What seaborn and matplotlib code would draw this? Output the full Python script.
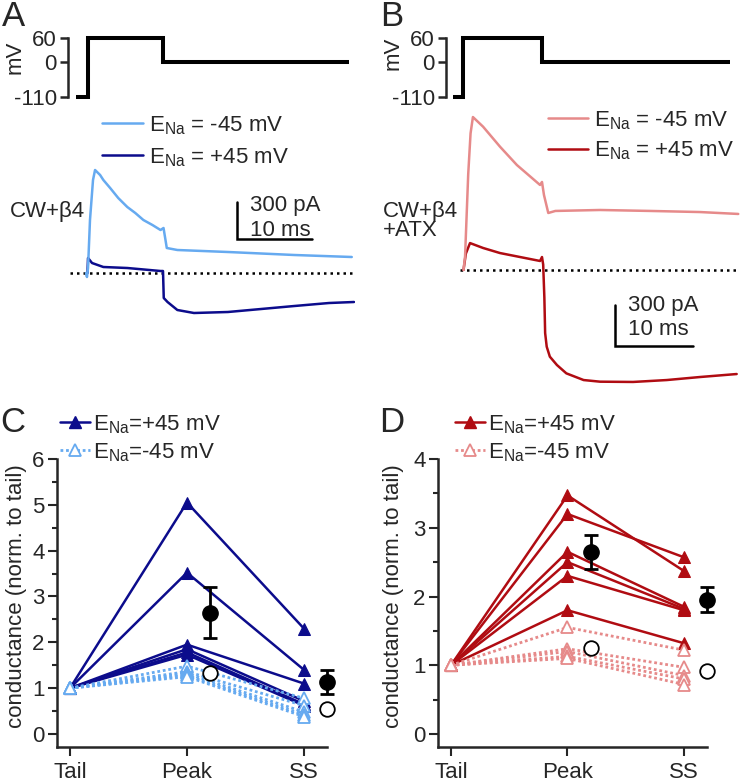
import numpy as np
import pandas as pd
import matplotlib
matplotlib.use("Agg")
import matplotlib.pyplot as plt
import seaborn as sns
from matplotlib.lines import Line2D
from matplotlib.ticker import NullLocator, MultipleLocator

sns.set_theme(style="ticks")
plt.rcParams["font.family"] = ["Liberation Sans", "DejaVu Sans"]
plt.rcParams["mathtext.fontset"] = "custom"
plt.rcParams["mathtext.rm"] = "Liberation Sans"
plt.rcParams["mathtext.it"] = "Liberation Sans:italic"
plt.rcParams["mathtext.bf"] = "Liberation Sans:bold"

# ---------------- data ----------------
# voltage protocol (ms, mV)
prot_t_A = [-1.5, 0, 0, 10, 10, 34.6]
prot_t_B = [-1.3, 0, 0, 10, 10, 33.9]
prot_v = [-110, -110, 60, 60, 0, 0]
volt_ticks = [-110, 0, 60]

# Panel A currents (ms, pA)
A_light_t = [-0.2, -0.07, 0.07, 0.33, 0.73, 1.0, 1.67, 2.1, 3.0, 4.07, 5.27, 6.33, 7.4, 8.6, 9.67, 10.07, 10.33, 10.5, 11.9, 18.6, 27.4, 35.0]
A_light_i = [0, -32, 40, 424, 744, 824, 784, 744, 680, 600, 528, 480, 424, 384, 344, 360, 264, 200, 184, 168, 144, 128]
A_dark_t = [0.0, 0.07, 0.6, 2.1, 5.27, 9.67, 10.0, 10.1, 10.6, 11.9, 14.1, 18.6, 23.0, 27.4, 32.0, 35.3]
A_dark_i = [0, 120, 80, 48, 40, 16, 16, -200, -232, -296, -320, -312, -288, -264, -240, -232]

# Panel B currents (ms, pA)
B_light_t = [0, 0.2, 0.6, 0.9, 1.2, 2.5, 4.65, 6.8, 9.75, 10.0, 10.25, 10.8, 11.7, 17.4, 23.8, 30.1, 35.0]
B_light_i = [0, 100, 700, 1000, 1119, 1048, 902, 768, 622, 644, 549, 417, 432, 439, 432, 424, 410]
B_dark_t = [0, 0.3, 0.83, 2.5, 4.65, 7.2, 9.75, 10.0, 10.15, 10.3, 10.4, 10.6, 11.0, 11.9, 13.1, 15.3, 17.4, 21.6, 25.9, 30.1, 34.8]
B_dark_i = [0, 120, 197, 161, 124, 95, 66, 95, 40, -200, -461, -561, -634, -695, -756, -805, -817, -819, -805, -783, -761]

# Panels C/D normalized conductance
phases = ["Tail", "Peak", "SS"]
C_pos_peak = [5.05, 3.52, 1.95, 1.85, 1.78, 1.73]
C_pos_ss = [2.30, 1.40, 1.10, 0.72, 0.65, 0.62]
C_neg_peak = [1.48, 1.36, 1.32, 1.28, 1.25]
C_neg_ss = [0.78, 0.62, 0.48, 0.42, 0.38]
D_pos_peak = [3.47, 3.20, 2.65, 2.50, 2.30, 1.80]
D_pos_ss = [2.37, 2.57, 1.85, 1.82, 1.80, 1.32]
D_neg_peak = [1.55, 1.24, 1.20, 1.13, 1.10]
D_neg_ss = [1.22, 0.97, 0.85, 0.80, 0.72]

# colours
BLUE_L, BLUE_D = "#66aaf0", "#0c0c8c"
RED_L, RED_D = "#e68a8a", "#b00c12"

W, H = 740, 783
fig = plt.figure(figsize=(W / 100, H / 100), dpi=100)
FS = 16


def add_ax(x0, x1, y0, y1):
    return fig.add_axes([x0 / W, 1 - y1 / H, (x1 - x0) / W, (y1 - y0) / H])


def px_lim(p0, p1, ref_px, ref_val, scale):
    return ((p0 - ref_px) / scale + ref_val, (p1 - ref_px) / scale + ref_val)


def fwd(v):
    v = np.asarray(v, dtype=float)
    return np.where(v >= 0, v, v * 0.795)


def inv(u):
    u = np.asarray(u, dtype=float)
    return np.where(u >= 0, u, u / 0.795)


def voltage_axes(x0, x1, t0px, pxms, prot_t, label_x, label_y):
    ax = add_ax(x0, x1, 30, 103)
    ax.set_yscale("function", functions=(fwd, inv))
    ax.set_xlim(*px_lim(x0, x1, t0px, 0, pxms))
    ax.set_ylim(inv(-(103 - 62) / 0.4), (62 - 30) / 0.4)
    sns.lineplot(x=prot_t, y=prot_v, ax=ax, estimator=None, sort=False,
                 color="black", lw=2.9, solid_joinstyle="miter", solid_capstyle="butt")
    for s in ["top", "right", "bottom"]:
        ax.spines[s].set_visible(False)
    ax.spines["left"].set_bounds(-110, 60)
    ax.spines["left"].set_linewidth(1.8)
    ax.set_yticks(volt_ticks)
    ax.set_yticklabels([str(v) for v in volt_ticks])
    ax.yaxis.set_minor_locator(NullLocator())
    ax.set_xticks([])
    ax.tick_params(axis="y", direction="out", length=6, width=1.8, pad=2, labelsize=FS)
    ax.set_ylabel("mV", fontsize=FS, labelpad=0)
    ax.yaxis.set_label_coords(label_x, label_y)
    ax.set_xlabel("")
    ax.patch.set_alpha(0)
    return ax


# ---------------- Panel A ----------------
vA = voltage_axes(68, 355, 87.5, 7.55, prot_t_A, -0.148, 0.63)
iA = add_ax(68, 355, 160, 325)
iA.set_xlim(*px_lim(68, 355, 87.5, 0, 7.55))
iA.set_ylim(-(325 - 273) / 0.125, (273 - 160) / 0.125)
iA.axis("off")
iA.hlines(0, -2.3, 35.0, colors="black", lw=1.8, linestyles=(0, (1, 1.6)))
sns.lineplot(x=A_dark_t, y=A_dark_i, ax=iA, estimator=None, sort=False, color=BLUE_D, lw=1.8)
sns.lineplot(x=A_light_t, y=A_light_i, ax=iA, estimator=None, sort=False, color=BLUE_L, lw=1.8)
sbx, sby = 19.8, 272
iA.plot([sbx, sbx, sbx + 10], [sby + 300, sby, sby], color="black", lw=1.8, solid_joinstyle="miter")
iA.text(sbx + 1.7, 544, "300 pA", fontsize=FS, va="center", ha="left")
iA.text(sbx + 1.7, 344, "10 ms", fontsize=FS, va="center", ha="left")
iA.legend(handles=[Line2D([], [], color=BLUE_L, lw=1.8), Line2D([], [], color=BLUE_D, lw=1.8)],
          labels=[r"E$_{\rm Na}$ = -45 mV", r"E$_{\rm Na}$ = +45 mV"],
          loc="upper left", bbox_to_anchor=(102 / W, 1 - 114 / H), bbox_transform=fig.transFigure,
          frameon=False, borderpad=0, borderaxespad=0, handlelength=1.86, handletextpad=0.25,
          labelspacing=0.43, fontsize=FS)
fig.text(10 / W, 1 - 212 / H, "CW+β4", fontsize=FS, ha="left", va="center")

# ---------------- Panel B ----------------
vB = voltage_axes(446, 740, 463.5, 7.85, prot_t_B, -0.143, 0.685)
iB = add_ax(446, 740, 105, 390)
iB.set_xlim(*px_lim(446, 740, 463.5, 0, 7.85))
iB.set_ylim(-(390 - 270) / 0.1367, (270 - 105) / 0.1367)
iB.axis("off")
iB.hlines(0, -0.45, 34.8, colors="black", lw=1.8, linestyles=(0, (1, 1.6)))
sns.lineplot(x=B_dark_t, y=B_dark_i, ax=iB, estimator=None, sort=False, color=RED_D, lw=1.8)
sns.lineplot(x=B_light_t, y=B_light_i, ax=iB, estimator=None, sort=False, color=RED_L, lw=1.8)
sbx, sby = 19.24, -556
iB.plot([sbx, sbx, sbx + 10], [sby + 300, sby, sby], color="black", lw=1.8, solid_joinstyle="miter")
iB.text(sbx + 1.75, -263, "300 pA", fontsize=FS, va="center", ha="left")
iB.text(sbx + 1.75, -432, "10 ms", fontsize=FS, va="center", ha="left")
iB.legend(handles=[Line2D([], [], color=RED_L, lw=1.8), Line2D([], [], color=RED_D, lw=1.8)],
          labels=[r"E$_{\rm Na}$ = -45 mV", r"E$_{\rm Na}$ = +45 mV"],
          loc="upper left", bbox_to_anchor=(548 / W, 1 - 109 / H), bbox_transform=fig.transFigure,
          frameon=False, borderpad=0, borderaxespad=0, handlelength=1.8, handletextpad=0.25,
          labelspacing=0.36, fontsize=FS)
fig.text(383 / W, 1 - 212 / H, "CW+β4", fontsize=FS, ha="left", va="center")
fig.text(383 / W, 1 - 231 / H, "+ATX", fontsize=FS, ha="left", va="center")


# ---------------- Panels C / D ----------------
def long_df(pos_peak, pos_ss, neg_peak, neg_ss):
    rows = []
    for k, (p, s) in enumerate(zip(pos_peak, pos_ss)):
        for xi, val in zip([0, 1, 2], [1.0, p, s]):
            rows.append(dict(cell=f"p{k}", cond="+45", x=xi, g=val))
    for k, (p, s) in enumerate(zip(neg_peak, neg_ss)):
        for xi, val in zip([0, 1, 2], [1.0, p, s]):
            rows.append(dict(cell=f"n{k}", cond="-45", x=xi, g=val))
    return pd.DataFrame(rows)


def cond_panel(x0, x1, ymax, ybot, pos_peak, pos_ss, neg_peak, neg_ss, cl, cd, label_x, leg_x):
    ax = add_ax(x0, x1, 459, 747)
    df = long_df(pos_peak, pos_ss, neg_peak, neg_ss)
    sns.lineplot(data=df[df.cond == "+45"], x="x", y="g", units="cell", estimator=None,
                 color=cd, lw=1.8, marker="^", markersize=8, markeredgecolor=cd, ax=ax,
                 legend=False, clip_on=False, zorder=3)
    sns.lineplot(data=df[df.cond == "-45"], x="x", y="g", units="cell", estimator=None,
                 color=cl, lw=2.0, linestyle=(0, (1, 1)), marker="^", markersize=8,
                 markerfacecolor="white", markeredgecolor=cl, markeredgewidth=1.3, ax=ax,
                 legend=False, clip_on=False, zorder=3)
    pp, ps = np.array(pos_peak), np.array(pos_ss)
    means = [pp.mean(), ps.mean()]
    sems = [pp.std(ddof=1) / np.sqrt(len(pp)), ps.std(ddof=1) / np.sqrt(len(ps))]
    eb = ax.errorbar([1.2, 2.2], means, yerr=sems, fmt="o", color="black", ms=11, capsize=4.7,
                     elinewidth=2, capthick=2, zorder=5)
    for a in eb.lines[0:1] + eb.lines[1] + eb.lines[2]:
        if a is not None:
            a.set_clip_on(False)
    nmeans = [np.mean(neg_peak), np.mean(neg_ss)]
    ax.plot([1.2, 2.2], nmeans, "o", mfc="white", mec="black", mew=1.3, ms=10.5, zorder=5, clip_on=False)

    ax.set_xlim(-0.111, 2.197)
    ax.set_ylim(ybot, ymax)
    ax.set_xticks([0, 1, 2])
    ax.set_xticklabels(phases)
    ax.set_yticks(range(0, ymax + 1))
    ax.yaxis.set_minor_locator(MultipleLocator(0.5))
    for s in ["top", "right"]:
        ax.spines[s].set_visible(False)
    for s in ["left", "bottom"]:
        ax.spines[s].set_linewidth(1.8)
    ax.tick_params(axis="both", which="major", direction="out", length=6.5, width=1.5, labelsize=FS)
    ax.tick_params(axis="y", which="major", pad=2.5)
    ax.tick_params(axis="x", which="major", pad=4)
    ax.tick_params(axis="y", which="minor", direction="out", length=3.3, width=1.5)
    ax.set_xlabel("")
    ax.set_ylabel("conductance (norm. to tail)", fontsize=FS)
    ax.yaxis.set_label_coords(label_x, 0.524)
    ax.patch.set_alpha(0)
    h1 = Line2D([], [], color=cd, lw=1.8, marker="^", markersize=8)
    h2 = Line2D([], [], color=cl, lw=2.0, linestyle=(0, (1, 1)), marker="^", markersize=8,
                markerfacecolor="white", markeredgecolor=cl, markeredgewidth=1.3)
    ax.legend(handles=[h1, h2], labels=[r"E$_{\rm Na}$=+45 mV", r"E$_{\rm Na}$=-45 mV"],
              loc="upper left", bbox_to_anchor=(leg_x / W, 1 - 413 / H), bbox_transform=fig.transFigure,
              frameon=False, borderpad=0, borderaxespad=0, handlelength=1.36, handletextpad=0.12,
              labelspacing=0.24, fontsize=FS)
    return ax


axC = cond_panel(57, 327, 6, -0.284, C_pos_peak, C_pos_ss, C_neg_peak, C_neg_ss,
                 BLUE_L, BLUE_D, -0.112, 60)
axD = cond_panel(438, 707, 4, -0.189, D_pos_peak, D_pos_ss, D_neg_peak, D_neg_ss,
                 RED_L, RED_D, -0.125, 455)

for lab, x, y in [("A", 13, 17), ("B", 392, 17), ("C", 13, 423), ("D", 392, 423)]:
    fig.text(x / W, 1 - y / H, lab, fontsize=25, ha="center", va="center")

fig.savefig("out.png", dpi=100)
